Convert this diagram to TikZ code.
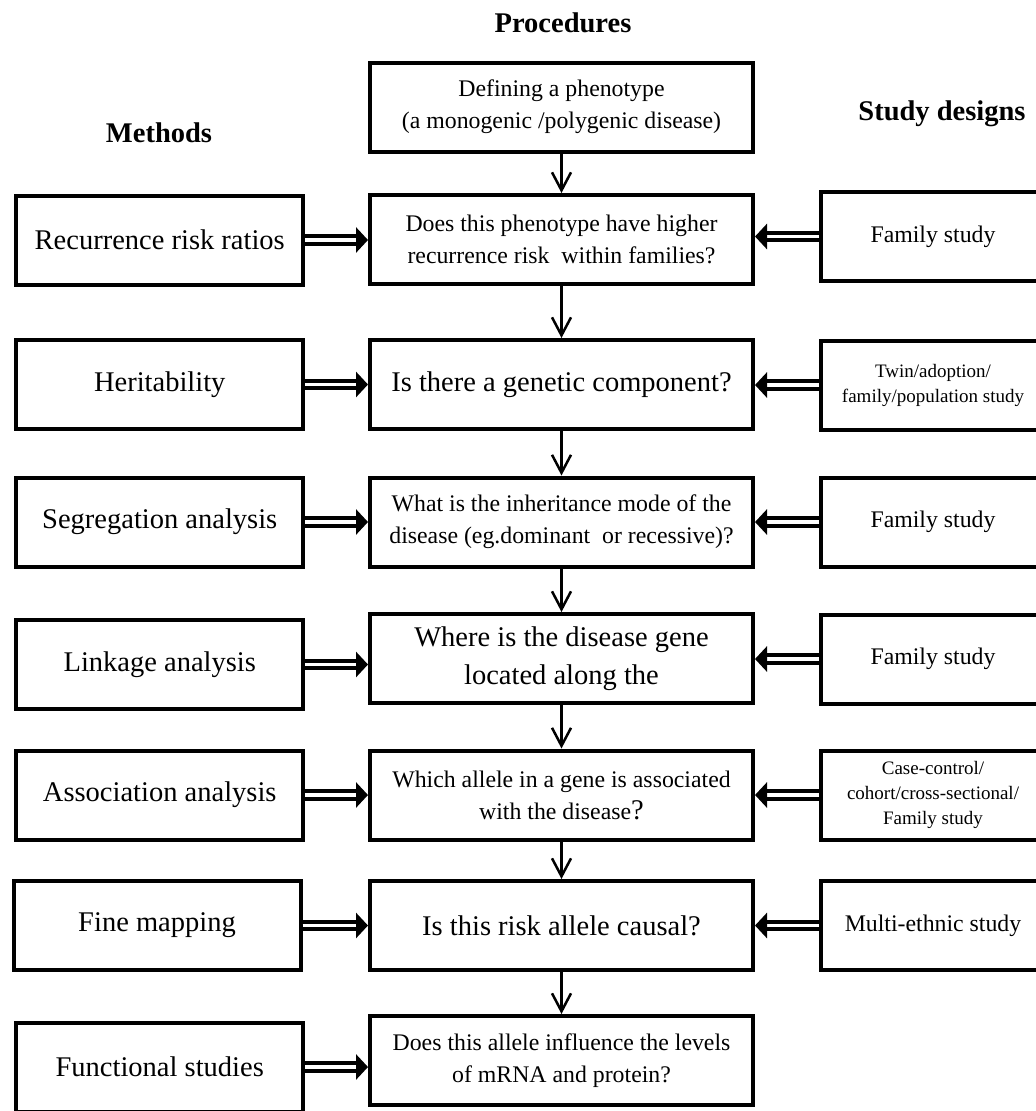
\documentclass[tikz,border=0pt]{standalone}
\usepackage{fontspec}
\setmainfont{Liberation Serif}
\usetikzlibrary{arrows.meta}
\newcommand{\fL}{\fontsize{28.5}{38}\selectfont}
\newcommand{\fM}{\fontsize{23.8}{32}\selectfont}
\newcommand{\fS}{\fontsize{19}{25}\selectfont}
\begin{document}
\begin{tikzpicture}[x=1pt,y=-1pt,
 box/.style={draw, line width=4pt, inner sep=0pt, align=center},
 cbox/.style={box, minimum width=383pt, minimum height=89pt},
 lbox/.style={box, minimum width=287pt, minimum height=89pt, font=\fL},
 rbox/.style={box, minimum width=224pt, minimum height=89pt},
 down/.style={line width=2.5pt, -{Straight Barb[length=18pt,width=19pt]}},
 dbl/.style={line width=4pt, double=white, double distance=3.5pt, -{Triangle[length=12pt,width=25pt]}},
 title/.style={font=\fL\bfseries}
]
\useasboundingbox[fill=white] (0,0) rectangle (1036,1111);
\node[title] (tp) at (563,23) {Procedures};
\node[title] (tm) at (159,133) {Methods};
\node[title] (ts) at (942,114) {Study designs};

\node[cbox, font=\fM] (c1) at (561.5,107) {Defining a phenotype\\(a monogenic /polygenic disease)};
\node[cbox, font=\fM] (c2) at (561.5,239.5) {Does this phenotype have higher\\recurrence risk\ \ within families?};
\node[cbox, font=\fL] (c3) at (561.5,384.5) {Is there a genetic component?};
\node[cbox, font=\fM] (c4) at (561.5,522) {What is the inheritance mode of the\\disease (eg.dominant\ \ or recessive)?};
\node[cbox, font=\fL] (c5) at (561.5,658.5) {Where is the disease gene\\located along the};
\node[cbox, font=\fM] (c6) at (561.5,795) {Which allele in a gene is associated\\with the disease{\fL?}};
\node[cbox, font=\fL] (c7) at (561.5,925.5) {Is this risk allele causal?};
\node[cbox, font=\fM] (c8) at (561.5,1060.5) {Does this allele influence the levels\\of mRNA and protein?};

\node[lbox] (l1) at (159.75,240) {Recurrence risk ratios};
\node[lbox] (l2) at (159.75,384.5) {Heritability};
\node[lbox] (l3) at (159.75,522) {Segregation analysis};
\node[lbox] (l4) at (159.75,664.5) {Linkage analysis};
\node[lbox] (l5) at (159.75,795) {Association analysis};
\node[lbox] (l6) at (157,925.5) {Fine mapping};
\node[lbox] (l7) at (159.75,1067) {Functional studies};

\node[rbox, font=\fM] (r1) at (933,236.5) {Family study};
\node[rbox, font=\fS] (r2) at (933,385) {Twin/adoption/\\family/population study};
\node[rbox, font=\fM] (r3) at (933,522) {Family study};
\node[rbox, font=\fM] (r4) at (933,659) {Family study};
\node[rbox, font=\fS] (r5) at (933,795) {Case-control/\\cohort/cross-sectional/\\Family study};
\node[rbox, font=\fM] (r6) at (933,925.5) {Multi-ethnic study};

\foreach \a/\b in {c1/c2,c2/c3,c3/c4,c4/c5,c5/c6,c6/c7,c7/c8}
  \draw[down] (\a.south) -- (\b.north);
\foreach \l/\c in {l1/c2,l2/c3,l3/c4,l4/c5,l5/c6,l6/c7,l7/c8}
  \draw[dbl] (\l.east) -- (\l.east -| \c.west);
\foreach \r/\c in {r1/c2,r2/c3,r3/c4,r4/c5,r5/c6,r6/c7}
  \draw[dbl] (\r.west) -- (\r.west -| \c.east);
\end{tikzpicture}
\end{document}
